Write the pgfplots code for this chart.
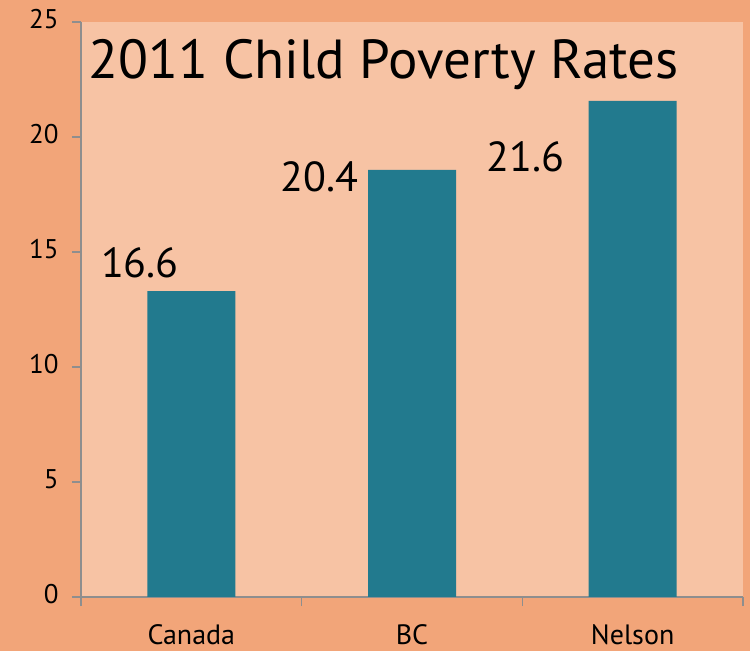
\documentclass[border=0pt]{standalone}
\usepackage{pgfplots}
\pgfplotsset{compat=1.18}
\usepackage{fontspec}
\setmainfont{PT Sans}
\definecolor{outerbg}{HTML}{F2A579}
\definecolor{innerbg}{HTML}{F7C3A4}
\definecolor{barteal}{HTML}{227A8E}
\definecolor{axgray}{HTML}{8E8E8E}
\begin{document}
\begin{tikzpicture}[x=1pt,y=1pt]
  \useasboundingbox (0,0) rectangle (750,651);
  \fill[outerbg] (0,0) rectangle (750,651);
  \begin{axis}[
    at={(81pt,54pt)}, anchor=south west,
    scale only axis,
    width=662pt, height=575pt,
    axis background/.style={fill=innerbg},
    axis x line*=bottom, axis y line*=left,
    axis line style={axgray, line width=1.2pt, -},
    xmin=0.5, xmax=3.5, ymin=0, ymax=25,
    ytick={0,5,10,15,20,25},
    xtick={0.5,1.5,2.5,3.5}, xticklabels={},
    extra x ticks={1,2,3},
    extra x tick labels={Canada,BC,Nelson},
    extra x tick style={major tick length=0pt,
      xticklabel style={anchor=base, yshift=-47pt, font=\fontsize{28}{28}\selectfont}},
    tick align=outside, major tick length=9pt,
    tick style={axgray, line width=1.2pt},
    yticklabel style={font=\fontsize{27}{27}\selectfont, xshift=-10pt, yshift=3pt},
    /pgf/number format/assume math mode=true,
    ]
    % bar heights as drawn in the reference
    \addplot[ybar, bar width=88pt, fill=barteal, draw=none] coordinates {
      (1,13.3) (2,18.57) (3,21.57)
    };
    \node[anchor=base west, font=\fontsize{55}{55}\selectfont] at (rel axis cs:0.006,0.901) {2011 Child Poverty Rates};
    \node[anchor=base, font=\fontsize{42}{42}\selectfont] at (axis cs:0.767,13.87) {16.6};
    \node[anchor=base, font=\fontsize{42}{42}\selectfont] at (axis cs:1.58,17.65) {20.4};
    \node[anchor=base, font=\fontsize{42}{42}\selectfont] at (axis cs:2.515,18.52) {21.6};
  \end{axis}
\end{tikzpicture}
\end{document}
